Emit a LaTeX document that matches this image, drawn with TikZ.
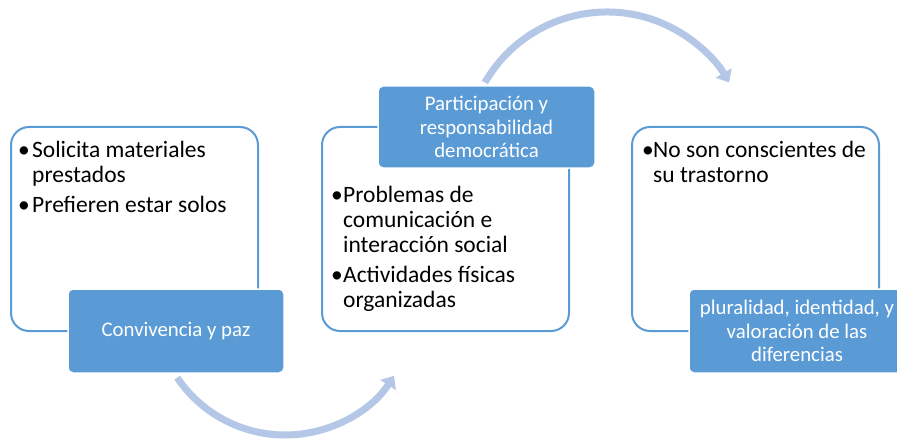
\documentclass[tikz,border=0pt]{standalone}
\usepackage{fontspec}
\setmainfont{Carlito}
\usetikzlibrary{arrows.meta}
\definecolor{accent}{HTML}{5B9BD5}
\definecolor{arcblue}{HTML}{B4C7E7}
\begin{document}
\begin{tikzpicture}[x=1pt,y=1pt,
  outlinebox/.style={draw=accent, line width=2pt, rounded corners=18pt, fill=white, minimum width=247pt, minimum height=204pt, inner sep=0pt},
  titlebox/.style={draw=white, line width=1.5pt, fill=accent, rounded corners=5pt, minimum width=216pt, minimum height=84pt, inner sep=0pt, text=white, align=center, font=\fontsize{20.8}{23.5}\selectfont},
  bodytext/.style={anchor=base west, inner sep=0pt, font=\fontsize{23.5}{25}\selectfont},
  cyclearrow/.style={draw=arcblue, line width=7pt, -{Triangle[length=11pt,width=18pt]}}]
\clip (0,0) rectangle (897,440);
\useasboundingbox (0,0) rectangle (897,440);
% arcs behind boxes
\coordinate (lowc) at (285,135);
\coordinate (upc) at (607,287);
\draw[cyclearrow] ([shift={(214:130pt)}]lowc) arc[start angle=214, end angle=327, radius=130pt];
\draw[cyclearrow] ([shift={(150:141pt)}]upc) arc[start angle=150, end angle=30, radius=141pt];
% outline boxes
\node[outlinebox] (box1) at (134.5,211) {};
\node[outlinebox] (box2) at (445.5,211) {};
\node[outlinebox] (box3) at (755.5,211) {};
% body texts
\node[bodytext] (txt1) at (18,283) {\begin{tabular}[t]{@{}l@{}l@{}}\makebox[14pt][l]{\textbullet}&Solicita materiales\\&prestados\\[5pt]\makebox[14pt][l]{\textbullet}&Prefieren estar solos\end{tabular}};
\node[bodytext] (txt2) at (331,238) {\begin{tabular}[t]{@{}l@{}l@{}}\makebox[12pt][l]{\textbullet}&Problemas de\\&comunicación e\\&interacción social\\[5pt]\makebox[12pt][l]{\textbullet}&Actividades físicas\\&organizadas\end{tabular}};
\node[bodytext] (txt3) at (642,283) {\begin{tabular}[t]{@{}l@{}l@{}}\makebox[11pt][l]{\textbullet}&No son conscientes de\\&su trastorno\end{tabular}};
% title boxes
\node[titlebox] (t1) at (176,109) {Convivencia y paz};
\node[titlebox, minimum width=217pt, minimum height=82pt] (t2) at (486.5,313) {Participación y\\responsabilidad\\democrática};
\node[titlebox] (t3) at (797,109) {pluralidad, identidad, y\\valoración de las\\diferencias};
\end{tikzpicture}
\end{document}
